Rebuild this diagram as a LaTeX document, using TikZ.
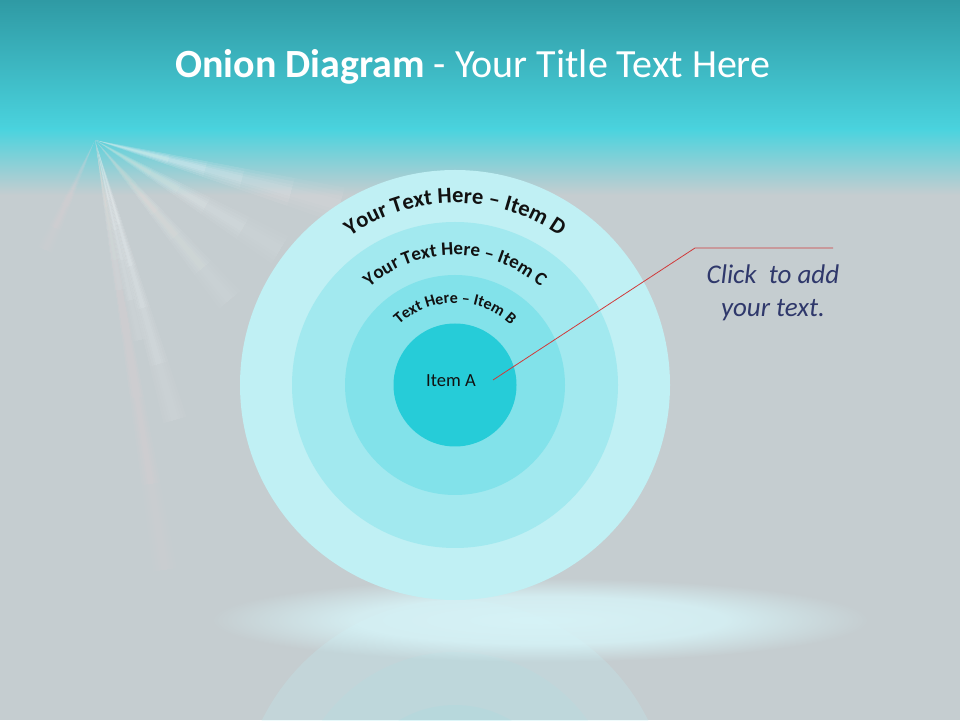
\documentclass[tikz,border=0pt]{standalone}
\usepackage{fontspec}
\setmainfont{Carlito}
\usetikzlibrary{decorations.text,fadings,calc}
\definecolor{bg}{HTML}{C5CDD0}
\definecolor{topteal}{HTML}{2F9AA4}
\definecolor{midteal}{HTML}{4AD3DE}
\definecolor{ringD}{HTML}{C0F0F4}
\definecolor{ringC}{HTML}{A2E9EF}
\definecolor{ringB}{HTML}{82E2EA}
\definecolor{ringA}{HTML}{26CCD8}
\definecolor{glowc}{HTML}{D8F6FA}
\definecolor{txtdark}{HTML}{111111}
\definecolor{navytext}{HTML}{2F386B}
\definecolor{calloutred}{HTML}{D03A3A}
\pgfdeclareradialshading{glowsh}{\pgfpointorigin}{color(0bp)=(pgftransparent!0); color(14bp)=(pgftransparent!15); color(25bp)=(pgftransparent!100); color(50bp)=(pgftransparent!100)}
\pgfdeclarefading{glowfade}{\pgfuseshading{glowsh}}
\tikzset{
  ring/.style={draw=none},
  curvetext/.style={decorate, decoration={text along path, text align=center, text color=txtdark}},
  callout/.style={draw=calloutred, line width=0.8pt},
  ray/.style={fill=white, draw=none}
}
\begin{document}
\begin{tikzpicture}[x=1pt,y=1pt]
\useasboundingbox (0,0) rectangle (960,720);
% background
\fill[bg] (0,0) rectangle (960,720);
\shade[top color=topteal, bottom color=midteal] (0,590) rectangle (960,720);
\shade[top color=midteal, bottom color=bg] (0,525) rectangle (960,591);
% light rays
\coordinate (O) at (95,580);
\foreach \ex/\ey/\w/\op in {175/300/12/0.035, 140/380/7/0.035, 120/430/6/0.025, 230/420/14/0.022, 340/515/18/0.04, 280/470/16/0.028, 165/150/12/0.018, 45/470/8/0.018}{
  \coordinate (E) at (\ex,\ey);
  \foreach \f in {1,0.8,0.6,0.45,0.3}{
    \coordinate (P) at ($(O)!\f!(E)$);
    \foreach \m in {1,0.75,0.5,0.3}{
      \fill[ray, opacity=\op] (O) -- ($(P)!\f*\m*\w pt!90:(O)$) -- ($(P)!\f*\m*\w pt!-90:(O)$) -- cycle;
    }
  }
}
% reflection
\begin{scope}
\clip (0,0) rectangle (960,120);
\coordinate (R) at (455,-95);
\fill[ringD, opacity=0.25] (R) circle[radius=215];
\fill[ringC, opacity=0.12] (R) circle[radius=163];
\fill[ringB, opacity=0.10] (R) circle[radius=110];
\end{scope}
% glow
\fill[glowc, path fading=glowfade, opacity=0.9] (540,100) ellipse[x radius=330, y radius=42];
% onion rings
\coordinate (C) at (455,335);
\fill[ringD] (C) circle[radius=215];
\fill[ringC] (C) circle[radius=163];
\fill[ringB] (C) circle[radius=110];
\fill[ringA] (C) circle[radius=61.5];
% curved labels
\path[curvetext, decoration={text={|\fontsize{22.5}{26}\selectfont\bfseries|Your Text Here – Item D}}]
  ($(C)+(165:182)$) arc[start angle=165, end angle=15, radius=182];
\path[curvetext, decoration={text={|\fontsize{19}{22}\selectfont\bfseries|Your Text Here – Item C}}]
  ($(C)+(170:130)$) arc[start angle=170, end angle=10, radius=130];
\path[curvetext, decoration={text={|\fontsize{16}{19}\selectfont\bfseries|Text Here – Item B}}]
  ($(C)+(175:82)$) arc[start angle=175, end angle=5, radius=82];
\node[text=txtdark, font=\fontsize{18.5}{22}\selectfont] (itemA) at (451,339) {Item A};
% callout
\coordinate (cA) at (493,340);
\coordinate (cB) at (695,472);
\coordinate (cC) at (833,472);
\draw[callout] (cA) -- (cB) -- (cC);
\node[align=center, text=navytext, font=\itshape\fontsize{27}{33}\selectfont] (note) at (773,427) {Click\ \ to add\\your text.};
% title
\node[anchor=base west, text=white, inner sep=0pt, font=\fontsize{40}{46}\selectfont] (title) at (175,642) {\textbf{Onion Diagram} - Your Title Text Here};
\end{tikzpicture}
\end{document}
